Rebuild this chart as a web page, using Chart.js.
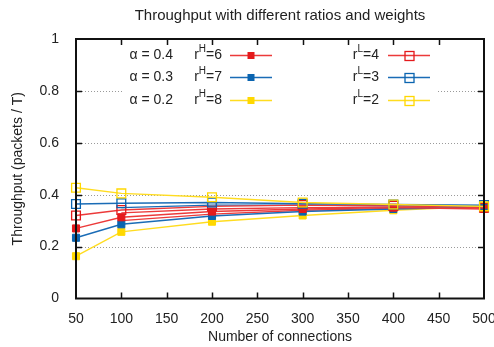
<!DOCTYPE html>
<html>
<head>
<meta charset="utf-8">
<script src="https://cdn.jsdelivr.net/npm/chart.js"></script>
<style>
  html, body { margin: 0; padding: 0; background: #fff; }
  #wrap { width: 494px; height: 347px; }
</style>
</head>
<body>
<div id="wrap"><canvas id="chart" width="494" height="347"></canvas></div>
<script>
// x positions (number of connections)
const connections = [50, 100, 200, 300, 400, 500];
const connTail = [100, 200, 300, 400, 500];

// high-priority ratios (filled squares)
const rH6 = [0.270, 0.313, 0.335, 0.345, 0.350, 0.345];
const rH7 = [0.234, 0.286, 0.318, 0.335, 0.345, 0.352];
const rH8 = [0.163, 0.257, 0.296, 0.320, 0.340, 0.355];
// low-priority ratios (open squares)
const rL4 = [0.320, 0.341, 0.355, 0.360, 0.357, 0.350];
const rL3 = [0.364, 0.367, 0.370, 0.365, 0.362, 0.360];
const rL2 = [0.427, 0.405, 0.390, 0.370, 0.362, 0.355];
// other weight runs, plotted from 100 connections on
const extraRed1 = [0.330, 0.345, 0.350, 0.352, 0.350];
const extraRed2 = [0.300, 0.325, 0.340, 0.347, 0.350];
const extraBlue = [0.350, 0.360, 0.360, 0.357, 0.355];

const yTicks = [0, 0.2, 0.4, 0.6, 0.8, 1];
const xTicks = [50, 100, 150, 200, 250, 300, 350, 400, 450, 500];

const RED = '#e41a1c', BLUE = '#0a64b0', YELLOW = '#ffd800';
const RED_LINE = '#ec3a3a', BLUE_LINE = '#1a6cb6', YELLOW_LINE = '#ffdc20';
const FONT = '"Liberation Sans", Arial, sans-serif';

function pts(xs, ys) {
  return xs.map((x, i) => ({ x: x, y: ys[i] }));
}

function series(ys, lineColor, markColor, filled, xs) {
  return {
    data: pts(xs || connections, ys),
    borderColor: lineColor,
    borderWidth: 1.4,
    clip: false,
    pointStyle: 'rect',
    pointRadius: filled ? 5 : 6.2,
    pointBorderWidth: filled ? 1 : 1.3,
    pointBorderColor: markColor,
    pointBackgroundColor: filled ? markColor : 'rgba(0,0,0,0)',
    tension: 0,
  };
}

function plain(xs, ys, color) {
  return { data: pts(xs, ys), borderColor: color, borderWidth: 1.4, pointRadius: 0, tension: 0 };
}

// legend rows: [alpha text, rH, rL, line colour, mark colour]
const legendRows = [
  ['α = 0.4', '6', '4', RED_LINE, RED],
  ['α = 0.3', '7', '3', BLUE_LINE, BLUE],
  ['α = 0.2', '8', '2', YELLOW_LINE, YELLOW],
];

function drawR(ctx, sup, val, rightX, y) {
  // "r" with a superscript, right aligned at rightX
  ctx.font = '14px ' + FONT;
  const wR = ctx.measureText('r').width;
  const wV = ctx.measureText('=' + val).width;
  ctx.font = '10px ' + FONT;
  const wS = ctx.measureText(sup).width;
  const x = rightX - wR - wS - wV;
  ctx.fillStyle = '#222';
  ctx.textAlign = 'left';
  ctx.textBaseline = 'middle';
  ctx.font = '14px ' + FONT;
  ctx.fillText('r', x, y);
  ctx.font = '10px ' + FONT;
  ctx.fillText(sup, x + wR, y - 6);
  ctx.font = '14px ' + FONT;
  ctx.fillText('=' + val, x + wR + wS, y);
}

function legendSample(ctx, x0, x1, y, lineColor, markColor, filled) {
  ctx.save();
  ctx.setLineDash([]);
  ctx.strokeStyle = lineColor;
  ctx.lineWidth = 1.4;
  ctx.beginPath();
  ctx.moveTo(x0, y + 0.5);
  ctx.lineTo(x1, y + 0.5);
  ctx.stroke();
  const cx = Math.round((x0 + x1) / 2);
  if (filled) {
    ctx.fillStyle = markColor;
    ctx.fillRect(cx - 3.5, y - 3, 7, 7);
  } else {
    ctx.lineWidth = 1.3;
    ctx.strokeStyle = markColor;
    ctx.strokeRect(cx - 4, y - 3.5, 9, 9);
  }
  ctx.restore();
}

const gnuFrame = {
  id: 'gnuFrame',
  beforeDatasetsDraw(chart) {
    const ctx = chart.ctx, a = chart.chartArea, ys = chart.scales.y;
    ctx.save();
    ctx.strokeStyle = '#9a9a9a';
    ctx.lineWidth = 1;
    ctx.setLineDash([1, 2]);
    for (const v of yTicks) {
      if (v === 0 || v === 1) continue;
      const py = Math.round(ys.getPixelForValue(v)) + 0.5;
      ctx.beginPath();
      if (v === 0.8) {
        // the key box sits over this grid line
        ctx.moveTo(a.left, py); ctx.lineTo(a.left + 46, py);
        ctx.moveTo(a.right - 46, py); ctx.lineTo(a.right, py);
      } else {
        ctx.moveTo(a.left, py); ctx.lineTo(a.right, py);
      }
      ctx.stroke();
    }
    ctx.restore();
  },
  afterDatasetsDraw(chart) {
    const ctx = chart.ctx, a = chart.chartArea;
    const xs = chart.scales.x, ys = chart.scales.y;
    ctx.save();
    ctx.strokeStyle = '#111';
    ctx.lineWidth = 1.5;
    ctx.beginPath();
    for (const v of xTicks) {
      if (v === 50 || v === 500) continue;
      const px = Math.round(xs.getPixelForValue(v)) + 0.5;
      ctx.moveTo(px, a.bottom); ctx.lineTo(px, a.bottom - 6);
      ctx.moveTo(px, a.top); ctx.lineTo(px, a.top + 6);
    }
    for (const v of yTicks) {
      if (v === 0 || v === 1) continue;
      const py = Math.round(ys.getPixelForValue(v)) + 0.5;
      ctx.moveTo(a.left, py); ctx.lineTo(a.left + 6, py);
      ctx.moveTo(a.right, py); ctx.lineTo(a.right - 6, py);
    }
    ctx.stroke();
    ctx.lineWidth = 2;
    ctx.strokeRect(a.left, a.top, a.right - a.left, a.bottom - a.top);

    // title
    ctx.fillStyle = '#222';
    ctx.font = '15px ' + FONT;
    ctx.textAlign = 'center';
    ctx.textBaseline = 'middle';
    ctx.fillText('Throughput with different ratios and weights', 280, 16);

    // key
    const rowY = [55, 77, 100];
    legendRows.forEach((r, i) => {
      const y = rowY[i];
      ctx.fillStyle = '#222';
      ctx.font = '14px ' + FONT;
      ctx.textAlign = 'right';
      ctx.textBaseline = 'middle';
      ctx.fillText(r[0], 173, y);
      drawR(ctx, 'H', r[1], 222, y);
      legendSample(ctx, 230, 272, y, r[3], r[4], true);
      drawR(ctx, 'L', r[2], 379, y);
      legendSample(ctx, 388, 430, y, r[3], r[4], false);
    });
    ctx.restore();
  }
};

new Chart(document.getElementById('chart'), {
  type: 'line',
  data: {
    datasets: [
      series(rL2, YELLOW_LINE, YELLOW, false),
      series(rL3, BLUE_LINE, BLUE, false),
      series(rL4, RED_LINE, RED, false),
      series(rH6, RED_LINE, RED, true),
      series(rH7, BLUE_LINE, BLUE, true),
      series(rH8, YELLOW_LINE, YELLOW, true),
      plain(connTail, extraRed1, RED_LINE),
      plain(connTail, extraRed2, RED_LINE),
      plain(connTail, extraBlue, BLUE_LINE),
    ]
  },
  options: {
    responsive: false,
    animation: false,
    layout: { padding: { top: 39, right: 10, left: 0, bottom: 0 } },
    plugins: {
      legend: { display: false },
      title: { display: false },
      tooltip: { enabled: false },
    },
    scales: {
      x: {
        type: 'linear',
        min: 50,
        max: 500,
        grid: { display: false },
        border: { display: false },
        ticks: {
          stepSize: 50,
          autoSkip: false,
          maxRotation: 0,
          padding: 4,
          color: '#222',
          font: { family: FONT, size: 14 },
        },
        title: {
          display: true,
          text: 'Number of connections',
          color: '#222',
          font: { family: FONT, size: 14 },
          padding: { top: 0, bottom: 1 },
        },
        afterFit(s) { s.height = 48.5; s.paddingLeft = 0; s.paddingRight = 0; },
      },
      y: {
        min: 0,
        max: 1,
        grid: { display: false },
        border: { display: false },
        ticks: {
          stepSize: 0.2,
          padding: 9,
          color: '#222',
          font: { family: FONT, size: 14 },
          callback: v => String(+v.toFixed(1)),
        },
        title: {
          display: true,
          text: 'Throughput (packets / T)',
          color: '#222',
          font: { family: FONT, size: 14 },
          padding: { top: 10, bottom: 0 },
        },
        afterFit(s) { s.width = 76; s.paddingTop = 0; s.paddingBottom = 0; },
      }
    }
  },
  plugins: [gnuFrame]
});
</script>
</body>
</html>
